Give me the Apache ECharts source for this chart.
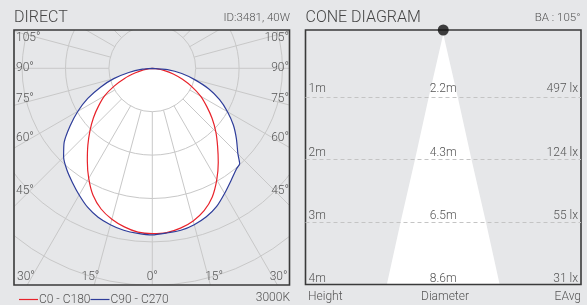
<!DOCTYPE html>
<html><head><meta charset="utf-8">
<script src="https://cdn.jsdelivr.net/npm/echarts@6/dist/echarts.min.js"></script>
<style>html,body{margin:0;padding:0;background:#e6e7e9}#c{width:587px;height:305px}</style>
</head><body><div id="c"></div>
<script>
// ---- data (intensity in arbitrary cd units, one ring = 100) ----
const gamma    = [0,5,10,15,20,25,30,35,40,45,50,55,60,65,70,75,80,85,90];
const c0       = [381,380,374,364,349,327,297,265,234,207,180,153,129,101,74,50,27,9,0];
const c180     = [381,379,371,360,345,323,293,261,231,203,177,151,127,97,68,40,21,7,0];
const gammaC90 = [0,5,10,15,20,25,30,35,40,42.5,45,50,55,60,65,70,75,80,85,90];
const c90      = [382,381,379,373,364,351,333,316,302,298,279,253,228,200,171,138,101,69,35,0];
const c270     = [384,382,379,373,365,353,337,321,306,289,265,231,198,164,127,92,55,23,0];
const sideAngleLabels   = [105,90,75,60,45];
const bottomAngleLabels = [-30,-15,0,15,30];
const coneHeights   = [1,2,3,4];
const coneDiameters = [2.2,4.3,6.5,8.6];
const coneLux       = [497,124,55,31];
const beamAngle = 105;
const legendNames = ['C0 - C180','C90 - C270'];

// ---- layout / style ----
const BG='#e6e7e9', GRID='#c8c8c8', TXT='#555', TTL='#454545', BORDER='#3a3a3a';
const RED='#e8232b', BLUE='#2e3d9a';
const FONT='Roboto, "Noto Sans", sans-serif';
const cx=152.3, cy=68.3, ring=43.4;
const box={x:14,y:30,w:275.5,h:255};
const box2={x:305.5,y:30,w:275.5,h:254.5};

function half(g, v, right){ return g.map((a,i)=>[v[i], right ? 360-a : a]); }
function curve(gR, vR, gL, vL){
  const r = half(gR, vR, true).filter((p,i)=>gR[i]!==0).reverse();
  return r.concat(half(gL, vL, false));
}
const redData  = curve(gamma, c0, gamma, c180);
const blueData = curve(gammaC90, c90, gamma, c270);

const chart = echarts.init(document.getElementById('c'), null, {renderer:'canvas'});

const texts = [];
function txt(s, x, y, align, size, color, weight, z){
  texts.push({type:'text', z: z||60, silent:true,
    style:{text:s, x:x, y:y, align:align, verticalAlign:'middle', textAlign:align, textVerticalAlign:'middle',
      fontSize:size, fontFamily:FONT, fontWeight:weight||300, fill:color}});
}
txt('DIRECT', 14, 18, 'left', 16, TTL, 300);
txt('ID:3481, 40W', 290, 18.3, 'right', 11.5, TXT, 300);
txt('CONE DIAGRAM', 305.5, 18, 'left', 16, TTL, 300);
txt('BA : '+beamAngle+'°', 580.5, 18, 'right', 11.5, TXT, 300);
txt('3000K', 290, 297.5, 'right', 12, TXT, 300);
txt('Height', 308, 297, 'left', 12, TXT, 300);
txt('Diameter', 445, 297, 'center', 12, TXT, 300);
txt('EAvg', 581, 297, 'right', 12, TXT, 300);
// angle labels along box edges
sideAngleLabels.forEach(a=>{
  const t=a*Math.PI/180, off = a<90 ? -3 : (a>90 ? 3 : 0);
  const y = cy + 126*Math.cos(t)/Math.sin(t) + off;
  txt(a+'°', 16, y, 'left', 12, TXT, 300);
  txt(a+'°', 289, y, 'right', 12, TXT, 300);
});
bottomAngleLabels.forEach(a=>{
  const yb=276.7, t=Math.abs(a)*Math.PI/180, s=Math.sign(a);
  const x = cx + s*((yb-cy)*Math.tan(t) + 6);
  txt(Math.abs(a)+'°', x, yb, 'center', 12, TXT, 300);
});

const masks = [
  [0,0,587,box.y],[0,0,box.x,305],[0,box.y+box.h,587,305-box.y-box.h],[box.x+box.w,0,587-box.x-box.w,305]
].map(r=>({type:'rect', z:50, silent:true, shape:{x:r[0],y:r[1],width:r[2],height:r[3]}, style:{fill:BG}}));
const borders = [box, box2].map(b=>({type:'rect', z:55, silent:true,
  shape:{x:b.x,y:b.y,width:b.w,height:b.h}, style:{fill:null, stroke:BORDER, lineWidth:1.6}}));

const maxH = coneHeights[coneHeights.length-1];

chart.setOption({
  backgroundColor: BG,
  animation: false,
  polar: [
    {center:[cx,cy], radius:[ring, ring*6]},
    {center:[cx,cy], radius:[0, ring*6]}
  ],
  angleAxis: [
    {polarIndex:0, type:'value', min:0, max:360, interval:15, startAngle:270, z:1,
     axisLine:{show:false}, axisTick:{show:false}, axisLabel:{show:false},
     splitLine:{show:true, lineStyle:{color:GRID, width:1}}},
    {polarIndex:1, type:'value', min:0, max:360, startAngle:270, show:false}
  ],
  radiusAxis: [
    {polarIndex:0, type:'value', min:0, max:5, interval:1, z:1,
     axisLine:{show:false}, axisTick:{show:false}, axisLabel:{show:false},
     splitLine:{show:true, lineStyle:{color:GRID, width:1}}},
    {polarIndex:1, type:'value', min:0, max:600, show:false}
  ],
  grid: {left:box2.x, top:34, width:box2.w, height:250.5},
  xAxis: {type:'value', min:-10.5, max:10.5, show:false},
  yAxis: {type:'value', min:0, max:maxH, inverse:true, show:false},
  legend: {left:14, top:288.5, z:60, icon:'rect', itemWidth:19, itemHeight:1.2, itemGap:0,
    data: legendNames, textStyle:{fontSize:12, color:TXT, fontFamily:FONT, fontWeight:300, padding:[0,0,0,-4]},
    selectedMode:false},
  graphic: {elements: masks.concat(borders, texts)},
  series: [
    {type:'line', name:'fill', coordinateSystem:'polar', polarIndex:1, data:blueData, z:0, silent:true,
     symbol:'none', smooth:0.2, lineStyle:{width:0}, areaStyle:{color:'#ffffff', opacity:1}},
    {type:'line', name:legendNames[0], coordinateSystem:'polar', polarIndex:1, data:redData, z:3, silent:true,
     symbol:'none', smooth:0.2, lineStyle:{color:RED, width:1.2}, itemStyle:{color:RED}},
    {type:'line', name:legendNames[1], coordinateSystem:'polar', polarIndex:1, data:blueData, z:3, silent:true,
     symbol:'none', smooth:0.2, lineStyle:{color:BLUE, width:1.2}, itemStyle:{color:BLUE}},
    {type:'custom', coordinateSystem:'cartesian2d', z:52, silent:true, data:[[0,0]],
     renderItem:(params, api)=>{
       const pts=[api.coord([0,0])];
       coneHeights.forEach((h,i)=>pts.push(api.coord([coneDiameters[i]/2,h])));
       for(let i=coneHeights.length-1;i>=0;i--) pts.push(api.coord([-coneDiameters[i]/2,coneHeights[i]]));
       return {type:'polygon', shape:{points:pts}, style:{fill:'#ffffff'}};
     }},
    {type:'custom', coordinateSystem:'cartesian2d', z:56, silent:true,
     data: coneHeights.map((h,i)=>[0,h,i]),
     renderItem:(params, api)=>{
       const h=api.value(1), i=api.value(2), cs=params.coordSys, p=api.coord([0,h]);
       const y=Math.round(p[1])+0.5;
       const ch=[];
       if(h<maxH) ch.push({type:'line', shape:{x1:cs.x, y1:y, x2:cs.x+cs.width, y2:y},
         style:{stroke:'#c4c4c4', lineWidth:1, lineDash:[4,3]}});
       const ts={fontSize:12, fontFamily:FONT, fontWeight:300, fill:TXT, verticalAlign:'bottom'};
       const ty = p[1] - (h===1 ? 1.5 : 0);
       ch.push({type:'text', style:Object.assign({text:h+'m', x:cs.x+3, y:ty, align:'left'}, ts)});
       ch.push({type:'text', style:Object.assign({text:coneDiameters[i]+'m', x:p[0], y:ty, align:'center'}, ts)});
       ch.push({type:'text', style:Object.assign({text:coneLux[i]+' lx', x:cs.x+cs.width-3, y:ty, align:'right'}, ts)});
       return {type:'group', children:ch};
     }},
    {type:'scatter', coordinateSystem:'cartesian2d', z:70, silent:true, data:[[0,0]],
     symbolSize:11, symbolOffset:[0,-4], itemStyle:{color:'#111'}}
  ]
});
</script></body></html>
